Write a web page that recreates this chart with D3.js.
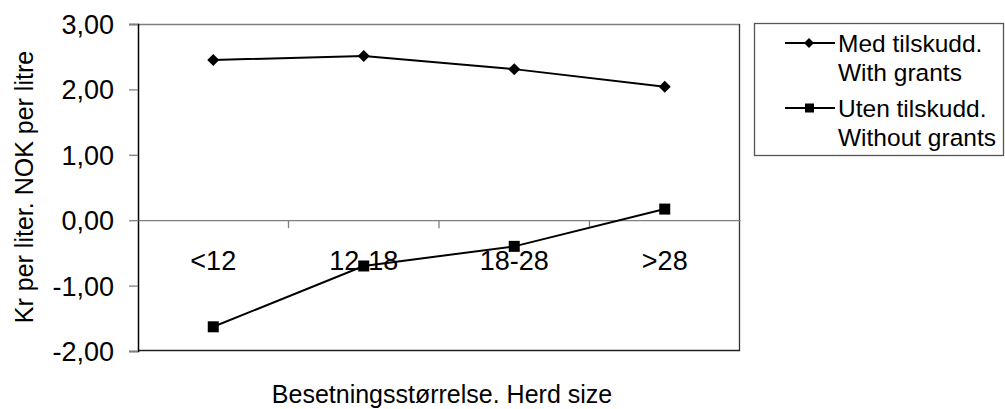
<!DOCTYPE html>
<html>
<head>
<meta charset="utf-8">
<script src="https://cdn.jsdelivr.net/npm/d3@7"></script>
<style>
  html, body { margin: 0; padding: 0; background: #fff; }
  svg { display: block; font-family: "Liberation Sans", Arial, sans-serif; }
</style>
</head>
<body>
<svg id="chart" width="1005" height="409"></svg>
<script>
const categories = ["<12", "12-18", "18-28", ">28"];
const medTilskudd = [2.45, 2.51, 2.31, 2.04];
const utenTilskudd = [-1.63, -0.70, -0.40, 0.17];
const yTicks = [-2, -1, 0, 1, 2, 3];
const seriesNames = [["Med tilskudd.", "With grants"], ["Uten tilskudd.", "Without grants"]];
const xTitle = "Besetningsstørrelse. Herd size";
const yTitle = "Kr per liter. NOK per litre";

const svg = d3.select("#chart");
const L = 138, R = 740, T = 24, B = 351;

const x = d3.scaleBand().domain(categories).range([L, R]).paddingInner(0).paddingOuter(0);
const y = d3.scaleLinear().domain([-2, 3]).range([B, T]);
const fmt = v => d3.format(".2f")(v).replace(".", ",").replace("−", "-");

// plot frame
svg.append("line").attr("x1", L).attr("x2", R).attr("y1", T + 0.5).attr("y2", T + 0.5).attr("stroke", "#808080").attr("stroke-width", 1.3);
svg.append("line").attr("x1", R - 0.5).attr("x2", R - 0.5).attr("y1", T).attr("y2", B).attr("stroke", "#333").attr("stroke-width", 1.3);
svg.append("line").attr("x1", L).attr("x2", R).attr("y1", B - 0.5).attr("y2", B - 0.5).attr("stroke", "#222").attr("stroke-width", 1.3);

// y axis
const yAxis = d3.axisLeft(y).tickValues(yTicks).tickSize(9).tickPadding(15).tickFormat(fmt);
const gy = svg.append("g").attr("transform", `translate(${L},0)`).call(yAxis);
gy.select(".domain").attr("stroke", "#000").attr("stroke-width", 1.5);
gy.selectAll(".tick line").attr("stroke", "#808080").attr("stroke-width", 1.3);
gy.selectAll(".tick text").attr("font-size", 27).attr("fill", "#000")
  .attr("font-family", "Liberation Sans, Arial, sans-serif").attr("dy", "0.35em");

// x axis at zero
const xAxis = d3.axisBottom(x).tickSize(0).tickPadding(0);
const gx = svg.append("g").attr("transform", `translate(0,${y(0)})`).call(xAxis);
gx.select(".domain").attr("stroke", "#808080").attr("stroke-width", 1.3);
gx.selectAll(".tick text").attr("font-size", 27).attr("fill", "#000")
  .attr("font-family", "Liberation Sans, Arial, sans-serif").attr("dy", 0).attr("y", 50);
// boundary ticks between categories
const bounds = categories.slice(1).map(c => x(c));
svg.append("g").selectAll("line").data(bounds).join("line")
  .attr("x1", d => d).attr("x2", d => d).attr("y1", y(0)).attr("y2", y(0) + 8)
  .attr("stroke", "#808080").attr("stroke-width", 1.3);

const cx = c => x(c) + x.bandwidth() / 2;
const line = d3.line().x((d, i) => cx(categories[i])).y(d => y(d));

// series 1
svg.append("path").datum(medTilskudd).attr("d", line).attr("fill", "none").attr("stroke", "#000").attr("stroke-width", 2);
svg.append("g").selectAll("path").data(medTilskudd).join("path")
  .attr("transform", (d, i) => `translate(${cx(categories[i])},${y(d)}) rotate(45)`)
  .attr("d", d3.symbol().type(d3.symbolSquare).size(72)).attr("fill", "#000");

// series 2
svg.append("path").datum(utenTilskudd).attr("d", line).attr("fill", "none").attr("stroke", "#000").attr("stroke-width", 2);
svg.append("g").selectAll("rect").data(utenTilskudd).join("rect")
  .attr("x", (d, i) => cx(categories[i]) - 5.5).attr("y", d => y(d) - 5.5)
  .attr("width", 11).attr("height", 11).attr("fill", "#000");

// axis titles
svg.append("text").attr("x", (L + R) / 2 + 3).attr("y", 403).attr("text-anchor", "middle")
  .attr("font-size", 25).text(xTitle);
svg.append("text").attr("transform", `translate(33,187) rotate(-90)`).attr("text-anchor", "middle")
  .attr("font-size", 25).text(yTitle);

// legend
const lg = svg.append("g");
lg.append("rect").attr("x", 754.5).attr("y", 23.5).attr("width", 249).attr("height", 132)
  .attr("fill", "#fff").attr("stroke", "#555").attr("stroke-width", 1.3);
const legendY = [43, 108];
seriesNames.forEach((names, i) => {
  const ly = legendY[i];
  lg.append("line").attr("x1", 785).attr("x2", 835).attr("y1", ly).attr("y2", ly).attr("stroke", "#000").attr("stroke-width", 2);
  if (i === 0) {
    lg.append("path").attr("transform", `translate(809,${ly}) rotate(45)`)
      .attr("d", d3.symbol().type(d3.symbolSquare).size(50)).attr("fill", "#000");
  } else {
    lg.append("rect").attr("x", 805).attr("y", ly - 4.5).attr("width", 9).attr("height", 9).attr("fill", "#000");
  }
  names.forEach((t, j) => {
    lg.append("text").attr("x", 838).attr("y", ly + 9 + j * 29).attr("font-size", 24.5).text(t);
  });
});
</script>
</body>
</html>
